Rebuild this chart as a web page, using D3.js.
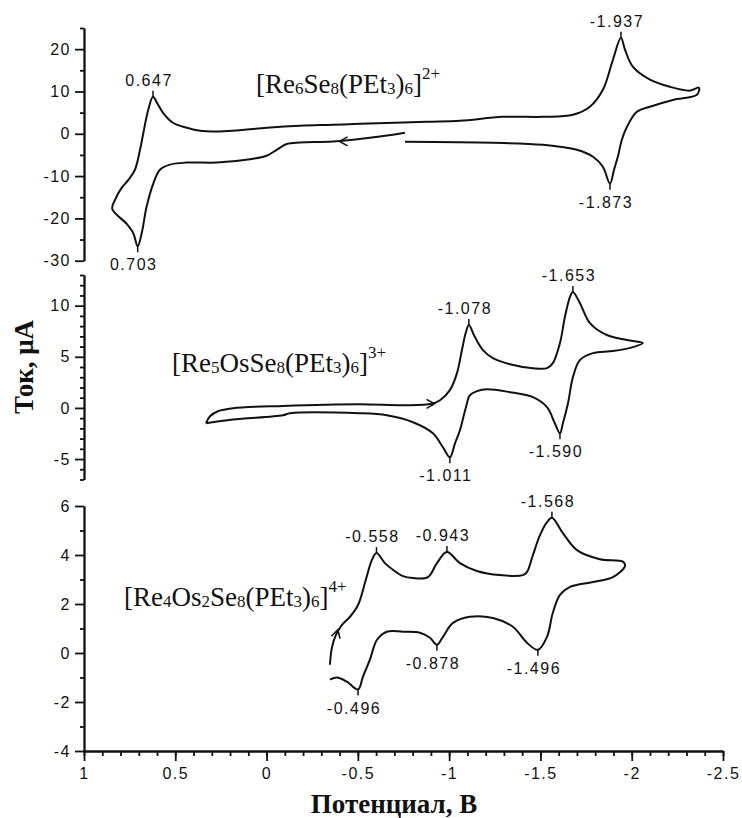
<!DOCTYPE html>
<html>
<head>
<meta charset="utf-8">
<script src="https://cdnjs.cloudflare.com/ajax/libs/d3/7.8.5/d3.min.js"></script>
<style>
  body { margin: 0; background: #fff; }
  .tick text { font-family: "Liberation Sans", Arial, sans-serif; font-size: 16px; letter-spacing: 1.5px; fill: #111; }
  .tick line, .domain { stroke: #111; stroke-width: 1.8px; }
  .cv { fill: none; stroke: #111; stroke-width: 2px; stroke-linejoin: round; }
  .peak { font-family: "Liberation Sans", Arial, sans-serif; font-size: 16px; letter-spacing: 1.5px; fill: #111; text-anchor: middle; }
</style>
</head>
<body>
<div id="chart"></div>
<script>
// Potential axis (V), shared by the three voltammograms
var potMajor = [1, 0.5, 0, -0.5, -1, -1.5, -2, -2.5];
var potMinor = d3.range(10, -26, -1).map(function(d) { return d / 10; });

// current axes (uA) per panel
var cur1Domain = [-30, 25], cur1Major = [20, 10, 0, -10, -20, -30], cur1Minor = [25, 15, 5, -5, -15, -25];
var cur2Domain = [-7, 13],  cur2Major = [10, 5, 0, -5], cur2Minor = [13, 12, 11, 9, 8, 7, 6, 4, 3, 2, 1, -1, -2, -3, -4, -6, -7];
var cur3Domain = [-4, 6],   cur3Major = [6, 4, 2, 0, -2, -4], cur3Minor = [5, 3, 1, -1, -3];

// [Re6Se8(PEt3)6]2+  : [potential V, current uA]
var cv1 = [
  [-0.758,-1.89],[-1.24,-2.13],[-1.514,-2.6],[-1.70,-3.78],[-1.788,-5.44],[-1.842,-7.8],[-1.881,-11.8],
  [-1.903,-8.5],[-1.924,-5.44],[-1.946,-1.42],[-1.974,1.65],[-2.028,5.2],[-2.1,6.4],[-2.226,8.0],[-2.357,9.2],
  [-2.368,10.9],[-2.319,10.2],[-2.209,11.1],[-2.1,12.8],[-2.007,15.8],[-1.963,19.9],[-1.941,22.7],
  [-1.897,17.5],[-1.842,10.4],[-1.771,6.4],[-1.678,4.5],[-1.514,4.0],[-1.295,4.0],[-1.059,3.07],
  [-0.878,2.84],[-0.512,2.36],[-0.364,2.13],[-0.183,1.9],[-0.002,1.42],[0.184,0.71],[0.272,0.54],
  [0.365,0.71],[0.436,1.42],[0.513,2.6],[0.567,4.96],[0.6,7.3],[0.622,8.75],[0.648,5.67],[0.675,0.17],
  [0.693,-3.78],[0.721,-8.5],[0.757,-10.9],[0.794,-12.8],[0.83,-15.6],[0.845,-17.8],[0.766,-21.3],
  [0.73,-23.5],[0.706,-26.6],[0.684,-23.5],[0.657,-17.2],[0.62,-11.7],[0.584,-8.5],[0.529,-7.3],
  [0.438,-6.8],[0.273,-6.8],[0.091,-6.0],[0.0,-5.2],[-0.055,-3.78],[-0.11,-2.43],[-0.183,-2.06],
  [-0.365,-1.82],[-0.621,-0.64],[-0.758,0.24]
];
var cv1Peaks = [[0.622, 8.75, "0.647", "up"], [0.706, -26.6, "0.703", "down"],
                [-1.941, 22.7, "-1.937", "up"], [-1.881, -11.8, "-1.873", "down"]];

// [Re5OsSe8(PEt3)6]3+
var cv2 = [
  [0.332,-1.5],[0.31,-0.81],[0.266,-0.32],[0.184,-0.03],[-0.09,0.2],[-0.512,0.36],[-0.758,0.26],
  [-0.906,0.41],[-0.95,0.75],[-1.004,1.74],[-1.043,3.4],[-1.07,5.66],[-1.092,7.42],[-1.108,8.1],
  [-1.141,6.93],[-1.185,5.66],[-1.24,4.87],[-1.333,4.28],[-1.459,3.89],[-1.536,3.89],[-1.568,4.38],
  [-1.607,6.34],[-1.634,8.89],[-1.662,10.85],[-1.678,11.34],[-1.716,10.26],[-1.771,8.3],[-1.864,7.13],
  [-1.974,6.64],[-2.061,6.34],[-2.007,5.95],[-1.897,5.56],[-1.788,5.36],[-1.716,4.68],[-1.678,3.01],
  [-1.651,0.46],[-1.623,-1.5],[-1.607,-2.48],[-1.579,-1.5],[-1.536,0.07],[-1.459,1.05],[-1.333,1.54],
  [-1.207,1.83],[-1.152,1.64],[-1.114,1.25],[-1.092,0.07],[-1.059,-2.19],[-1.032,-3.46],[-1.004,-4.83],
  [-0.966,-3.85],[-0.911,-2.48],[-0.802,-1.4],[-0.659,-0.72],[-0.512,-0.52],[-0.128,-0.52],
  [-0.09,-0.72],[0.184,-1.14],[0.332,-1.5]
];
var cv2Peaks = [[-1.108, 8.1, "-1.078", "up"], [-1.678, 11.34, "-1.653", "up"],
                [-1.607, -2.48, "-1.590", "down"], [-1.004, -4.83, "-1.011", "down"]];

// [Re4Os2Se8(PEt3)6]4+
var cv3 = [
  [-0.347,-0.48],[-0.358,0.22],[-0.38,0.74],[-0.413,1.15],[-0.457,1.48],[-0.501,1.96],[-0.544,3.0],
  [-0.577,3.8],[-0.602,4.08],[-0.648,3.67],[-0.692,3.4],[-0.747,3.14],[-0.802,3.06],[-0.884,3.1],
  [-0.933,3.67],[-0.988,4.12],[-1.059,3.67],[-1.152,3.35],[-1.278,3.18],[-1.404,3.18],[-1.426,3.3],
  [-1.459,4.0],[-1.497,4.8],[-1.536,5.34],[-1.563,5.52],[-1.623,4.89],[-1.7,4.2],[-1.826,3.83],[-1.952,3.73],
  [-1.963,3.55],[-1.897,3.1],[-1.788,2.9],[-1.662,2.7],[-1.607,2.37],[-1.568,1.64],[-1.536,0.66],
  [-1.486,0.13],[-1.426,0.42],[-1.349,1.07],[-1.24,1.43],[-1.114,1.48],[-1.021,1.23],[-0.966,0.66],
  [-0.933,0.34],[-0.895,0.62],[-0.84,0.83],[-0.747,0.87],[-0.659,0.87],[-0.605,0.54],[-0.566,-0.27],
  [-0.528,-0.96],[-0.501,-1.49],[-0.44,-1.17],[-0.386,-1.0],[-0.347,-1.09]
];
var cv3Peaks = [[-0.602, 4.08, "-0.558", "up"], [-0.988, 4.12, "-0.943", "up"], [-1.563, 5.52, "-1.568", "up"],
                [-0.933, 0.34, "-0.878", "down"], [-1.486, 0.13, "-1.496", "down"], [-0.501, -1.49, "-0.496", "down"]];

// scan direction arrows: [potential, current, direction]
var cv1Arrows = [[-0.40, -1.8, "left"]];
var cv2Arrows = [[-0.92, 0.40, "right"]];
var cv3Arrows = [[-0.39, 0.95, "up"]];

// compound names: [text, kind]
var names = [
  [["[Re",""],["6","sub"],["Se",""],["8","sub"],["(PEt",""],["3","sub"],[")",""],["6","sub"],["]",""],["2+","sup"]],
  [["[Re",""],["5","sub"],["OsSe",""],["8","sub"],["(PEt",""],["3","sub"],[")",""],["6","sub"],["]",""],["3+","sup"]],
  [["[Re",""],["4","sub"],["Os",""],["2","sub"],["Se",""],["8","sub"],["(PEt",""],["3","sub"],[")",""],["6","sub"],["]",""],["4+","sup"]]
];

var W = 742, H = 818;
var svg = d3.select("#chart").append("svg")
    .attr("width", W)
    .attr("height", H);

var x = d3.scaleLinear().domain([1, -2.5]).range([84, 723]);

// three panels stacked, each with its own current scale
var panels = [
  {y: d3.scaleLinear().domain(cur1Domain).range([260.7, 28]), major: cur1Major, minor: cur1Minor, cv: cv1, peaks: cv1Peaks, arrows: cv1Arrows, name: names[0], nx: 256, ny: 93},
  {y: d3.scaleLinear().domain(cur2Domain).range([479.5, 275]), major: cur2Major, minor: cur2Minor, cv: cv2, peaks: cv2Peaks, arrows: cv2Arrows, name: names[1], nx: 172, ny: 372},
  {y: d3.scaleLinear().domain(cur3Domain).range([751, 506]), major: cur3Major, minor: cur3Minor, cv: cv3, peaks: cv3Peaks, arrows: cv3Arrows, name: names[2], nx: 124, ny: 606}
];

var fmt = function(d) { return String(d); };

panels.forEach(function(p) {
  var y = p.y;

  // y axis: minor ticks first, then labelled major ticks
  svg.append("g").attr("class", "yminor")
      .attr("transform", "translate(84,0)")
      .call(d3.axisLeft(y).tickValues(p.minor).tickSize(4).tickSizeOuter(0).tickFormat(""));
  svg.append("g").attr("class", "yaxis")
      .attr("transform", "translate(84,0)")
      .call(d3.axisLeft(y).tickValues(p.major).tickSize(9).tickSizeOuter(0).tickPadding(4).tickFormat(fmt));

  // the voltammogram
  var line = d3.line()
      .x(function(d) { return x(d[0]); })
      .y(function(d) { return y(d[1]); })
      .curve(d3.curveCatmullRom.alpha(0.5));
  svg.append("path").attr("class", "cv")
      .datum(p.cv)
      .attr("d", line);

  // peak markers and potentials
  var pk = svg.append("g").attr("class", "peaks");
  pk.selectAll("line").data(p.peaks).enter().append("line")
      .attr("x1", function(d) { return x(d[0]); })
      .attr("x2", function(d) { return x(d[0]); })
      .attr("y1", function(d) { return y(d[1]); })
      .attr("y2", function(d) { return y(d[1]) + (d[3] == "up" ? -6 : 6); })
      .attr("stroke", "#111").attr("stroke-width", 1.5);
  pk.selectAll("text").data(p.peaks).enter().append("text")
      .attr("class", "peak")
      .attr("x", function(d) { return x(d[0]) - 4; })
      .attr("y", function(d) { return y(d[1]) + (d[3] == "up" ? -11 : 24); })
      .text(function(d) { return d[2]; });

  // scan direction arrows
  svg.append("g").selectAll("path").data(p.arrows).enter().append("path")
      .attr("transform", function(d) {
        var rot = d[2] == "left" ? 0 : d[2] == "right" ? 180 : 105;
        return "translate(" + x(d[0]) + "," + y(d[1]) + ") rotate(" + rot + ")";
      })
      .attr("d", "M8,-4.5L0,0L8,4.5")
      .attr("fill", "none").attr("stroke", "#111").attr("stroke-width", 1.6);

  // compound name with sub/superscripts
  var t = svg.append("text")
      .attr("x", p.nx).attr("y", p.ny)
      .attr("font-family", "'Liberation Serif', 'Times New Roman', serif")
      .attr("font-size", "27px")
      .attr("fill", "#111");
  var shift = 0;
  p.name.forEach(function(s) {
    var target = s[1] == "sub" ? 1 : s[1] == "sup" ? -14 : 0;
    t.append("tspan")
        .attr("dy", target - shift)
        .attr("font-size", s[1] == "" ? "27px" : "17px")
        .text(s[0]);
    shift = target;
  });
});

// potential axis along the bottom
svg.append("g").attr("class", "xminor")
    .attr("transform", "translate(0,751)")
    .call(d3.axisBottom(x).tickValues(potMinor).tickSize(5).tickSizeOuter(0).tickFormat(""));
svg.append("g").attr("class", "xaxis")
    .attr("transform", "translate(0,751)")
    .call(d3.axisBottom(x).tickValues(potMajor).tickSize(10).tickSizeOuter(0).tickPadding(7).tickFormat(fmt));

// axis titles
svg.append("text")
    .attr("x", 394).attr("y", 813)
    .attr("text-anchor", "middle")
    .attr("font-family", "'Liberation Serif', 'Times New Roman', serif")
    .attr("font-weight", "bold").attr("font-size", "27px")
    .attr("fill", "#111")
    .text("Потенциал, В");
svg.append("text")
    .attr("transform", "translate(33,367) rotate(-90)")
    .attr("text-anchor", "middle")
    .attr("font-family", "'Liberation Serif', 'Times New Roman', serif")
    .attr("font-weight", "bold").attr("font-size", "27px")
    .attr("fill", "#111")
    .text("Ток, μA");
</script>
</body>
</html>
